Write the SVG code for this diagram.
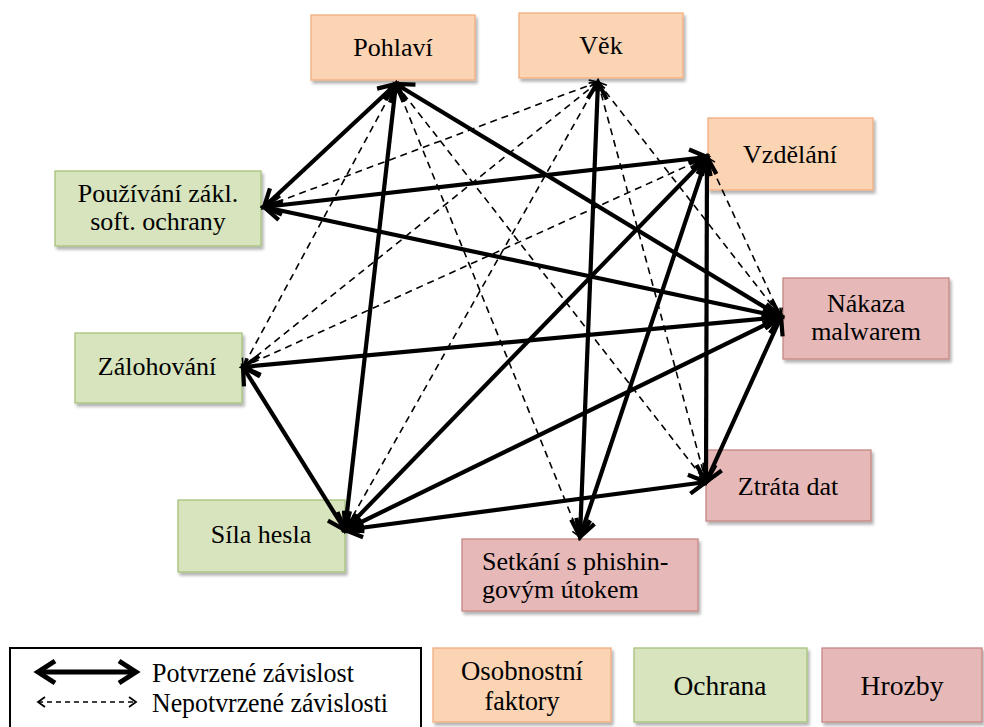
<svg xmlns="http://www.w3.org/2000/svg" width="984" height="727" viewBox="0 0 984 727">
<defs>
<style>
.node rect{stroke-width:1.3;filter:url(#sh)}
.o rect{fill:#FBD4B4;stroke:#F0AE80}
.g rect{fill:#D7E4BD;stroke:#A7C27C}
.r rect{fill:#E6B9B8;stroke:#C68785}
text{fill:#000}
.t{font-size:26px;text-anchor:middle}
.lt{font-size:28px;text-anchor:middle}
.solid{stroke:#000;stroke-width:4.2;fill:none;marker-start:url(#ah);marker-end:url(#ah)}
.dash{stroke:#000;stroke-width:1.6;fill:none;stroke-dasharray:7 5;marker-start:url(#dh);marker-end:url(#dh)}
</style>
<filter id="sh" x="-10%" y="-10%" width="130%" height="140%">
<feDropShadow dx="2" dy="3" stdDeviation="1.5" flood-color="#000" flood-opacity="0.3"/>
</filter>
<marker id="ah" markerUnits="userSpaceOnUse" markerWidth="40" markerHeight="40" viewBox="-20 -20 40 40" refX="0" refY="0" orient="auto-start-reverse" overflow="visible">
<path d="M-17,-9.5 L0,0 L-17,9.5" fill="none" stroke="#000" stroke-width="4.2" stroke-linejoin="miter"/>
</marker>
<marker id="dh" markerUnits="userSpaceOnUse" markerWidth="20" markerHeight="20" viewBox="-10 -10 20 20" refX="0" refY="0" orient="auto-start-reverse" overflow="visible">
<path d="M-8,-5 L0,0 L-8,5" fill="none" stroke="#000" stroke-width="1.6"/>
</marker>
<marker id="lah" markerUnits="userSpaceOnUse" markerWidth="40" markerHeight="40" viewBox="-20 -20 40 40" refX="0" refY="0" orient="auto-start-reverse" overflow="visible">
<path d="M-17,-11 L0,0 L-17,11" fill="none" stroke="#000" stroke-width="5" stroke-linejoin="miter"/>
</marker>
<marker id="ldh" markerUnits="userSpaceOnUse" markerWidth="20" markerHeight="20" viewBox="-10 -10 20 20" refX="0" refY="0" orient="auto-start-reverse" overflow="visible">
<path d="M-7,-5 L0,0 L-7,5" fill="none" stroke="#000" stroke-width="1.8"/>
</marker>
</defs>
<rect x="0" y="0" width="984" height="727" fill="#fff"/>
<g id="nodes" font-family="'Liberation Serif', 'Times New Roman', serif">
<g id="pohlavi" class="node o"><rect x="311" y="15" width="164" height="65"/><text class="t" x="393" y="56">Pohlaví</text></g>
<g id="vek" class="node o"><rect x="519" y="13" width="164" height="65"/><text class="t" x="601" y="54">Věk</text></g>
<g id="vzdelani" class="node o"><rect x="708" y="118" width="165" height="72"/><text class="t" x="790" y="163">Vzdělání</text></g>
<g id="pouzivani" class="node g"><rect x="55" y="171" width="206" height="75"/><text class="t" x="158" y="202">Používání zákl.</text><text class="t" x="158" y="230">soft. ochrany</text></g>
<g id="zalohovani" class="node g"><rect x="75" y="333" width="167" height="70"/><text class="t" x="157" y="375">Zálohování</text></g>
<g id="sila" class="node g"><rect x="178" y="500" width="167" height="72"/><text class="t" x="261" y="543">Síla hesla</text></g>
<g id="nakaza" class="node r"><rect x="783" y="278" width="166" height="81"/><text class="t" x="866" y="312">Nákaza</text><text class="t" x="866" y="340">malwarem</text></g>
<g id="ztrata" class="node r"><rect x="706" y="450" width="165" height="71"/><text class="t" x="788" y="495">Ztráta dat</text></g>
<g id="setkani" class="node r"><rect x="462" y="539" width="236" height="72"/><text x="482" y="570" font-size="26">Setkání s phishin-</text><text x="482" y="598" font-size="26">govým útokem</text></g>
</g>
<g id="connectors">
<g id="unconfirmed">
<line class="dash" x1="396" y1="84" x2="243" y2="367"/>
<line class="dash" x1="396" y1="84" x2="580" y2="537"/>
<line class="dash" x1="396" y1="84" x2="706" y2="482"/>
<line class="dash" x1="598" y1="82" x2="264" y2="207"/>
<line class="dash" x1="598" y1="82" x2="243" y2="367"/>
<line class="dash" x1="598" y1="82" x2="345" y2="530"/>
<line class="dash" x1="598" y1="82" x2="781" y2="317"/>
<line class="dash" x1="598" y1="82" x2="706" y2="482"/>
<line class="dash" x1="707" y1="157" x2="243" y2="367"/>
<line class="dash" x1="707" y1="157" x2="781" y2="317"/>
</g>
<g id="confirmed">
<line class="solid" x1="396" y1="84" x2="264" y2="207"/>
<line class="solid" x1="396" y1="84" x2="345" y2="530"/>
<line class="solid" x1="396" y1="84" x2="781" y2="317"/>
<line class="solid" x1="598" y1="82" x2="580" y2="537"/>
<line class="solid" x1="707" y1="157" x2="264" y2="207"/>
<line class="solid" x1="707" y1="157" x2="345" y2="530"/>
<line class="solid" x1="707" y1="157" x2="580" y2="537"/>
<line class="solid" x1="707" y1="157" x2="706" y2="482"/>
<line class="solid" x1="781" y1="317" x2="264" y2="207"/>
<line class="solid" x1="781" y1="317" x2="243" y2="367"/>
<line class="solid" x1="781" y1="317" x2="345" y2="530"/>
<line class="solid" x1="781" y1="317" x2="706" y2="482"/>
<line class="solid" x1="243" y1="367" x2="345" y2="530"/>
<line class="solid" x1="345" y1="530" x2="706" y2="482"/>
</g>
</g>
<g id="legend" font-family="'Liberation Serif', 'Times New Roman', serif">
<rect x="10" y="648" width="411" height="84" fill="#fff" stroke="#000" stroke-width="2"/>
<line x1="38" y1="672" x2="136" y2="672" stroke="#000" stroke-width="5" marker-start="url(#lah)" marker-end="url(#lah)"/>
<line x1="38" y1="702" x2="136" y2="702" stroke="#000" stroke-width="1.6" stroke-dasharray="5 4" marker-start="url(#ldh)" marker-end="url(#ldh)"/>
<text x="152" y="682" font-size="28" textLength="202" lengthAdjust="spacingAndGlyphs">Potvrzené závislost</text>
<text x="152" y="712" font-size="28" textLength="236" lengthAdjust="spacingAndGlyphs">Nepotvrzené závislosti</text>
</g>
<g id="legend-keys" font-family="'Liberation Serif', 'Times New Roman', serif">
<g id="legend-osobnostni" class="node o"><rect x="433" y="648" width="178" height="74"/><text class="lt" x="522" y="680" textLength="122" lengthAdjust="spacingAndGlyphs">Osobnostní</text><text class="lt" x="522" y="710" textLength="75" lengthAdjust="spacingAndGlyphs">faktory</text></g>
<g id="legend-ochrana" class="node g"><rect x="634" y="648" width="173" height="74"/><text class="lt" x="720" y="695" textLength="93" lengthAdjust="spacingAndGlyphs">Ochrana</text></g>
<g id="legend-hrozby" class="node r"><rect x="822" y="648" width="160" height="74"/><text class="lt" x="902" y="695" textLength="83" lengthAdjust="spacingAndGlyphs">Hrozby</text></g>
</g>
</svg>
